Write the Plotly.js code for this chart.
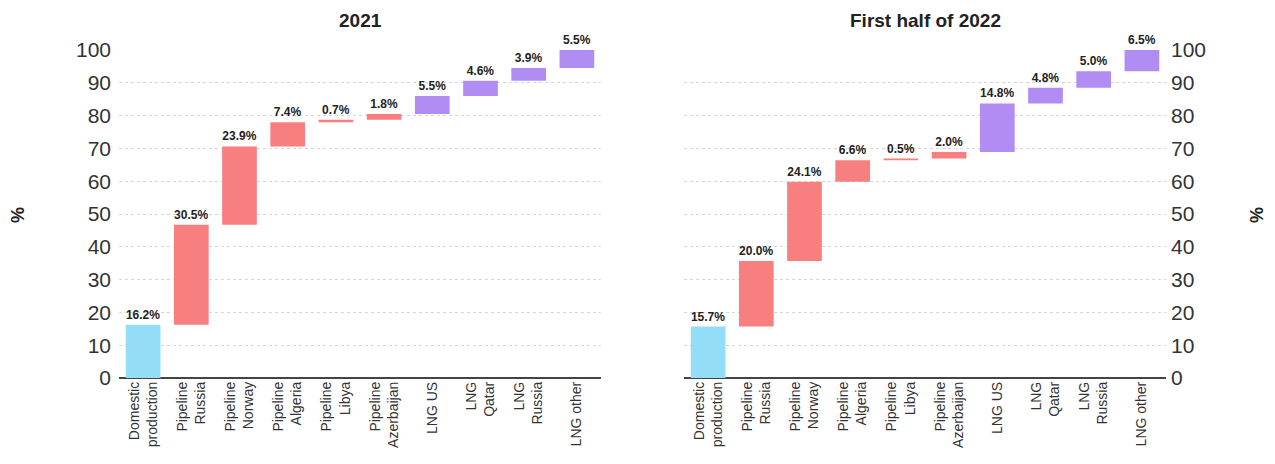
<!DOCTYPE html>
<html>
<head>
<meta charset="utf-8">
<script src="https://cdn.plot.ly/plotly-3.0.1.min.js"></script>
<style>html,body{margin:0;padding:0;background:#fff;}#chart{width:1275px;height:464px;}</style>
</head>
<body>
<div id="chart"></div>
<script>
var categories = ["Domestic<br>production","Pipeline<br>Russia","Pipeline<br>Norway","Pipeline<br>Algeria","Pipeline<br>Libya","Pipeline<br>Azerbaijan","LNG US","LNG<br>Qatar","LNG<br>Russia","LNG other"];
var groups = ["domestic","pipeline","pipeline","pipeline","pipeline","pipeline","lng","lng","lng","lng"];
var values2021 = [16.2,30.5,23.9,7.4,0.7,1.8,5.5,4.6,3.9,5.5];
var values2022 = [15.7,20.0,24.1,6.6,0.5,2.0,14.8,4.8,5.0,6.5];
var yTicks = [0,10,20,30,40,50,60,70,80,90,100];

var groupColors = {domestic:"#93DDF6", pipeline:"#F77F7F", lng:"#B18CF3"};
var FONT = "'Liberation Sans Narrow', 'Arial Narrow', 'Liberation Sans', Arial, sans-serif";

function makeTrace(vals, xa, ya){
  var bases = [], acc = 0;
  for (var i=0;i<vals.length;i++){ bases.push(acc); acc += vals[i]; }
  return {
    type:"bar", x:categories, y:vals, base:bases, xaxis:xa, yaxis:ya,
    width:0.72,
    marker:{color:groups.map(function(g){return groupColors[g];})},
    text:vals.map(function(v){return v.toFixed(1)+"%";}),
    texttemplate:"<b>%{text}</b>",
    textposition:"outside",
    textfont:{family:FONT, size:12, color:"#222"},
    cliponaxis:false,
    hoverinfo:"skip", showlegend:false
  };
}

var xCommon = {type:"category", tickangle:-90, showgrid:false, ticks:"", zeroline:false,
  tickfont:{family:"'Liberation Sans', Arial, sans-serif", size:14, color:"#333"},
  showline:false, fixedrange:true};
var yCommon = {range:[0,100], tickvals:yTicks, showgrid:true, gridcolor:"#d6d6d6", griddash:"dot", gridwidth:1,
  zeroline:true, zerolinecolor:"#444", zerolinewidth:1.5, ticks:"", showline:false,
  tickfont:{family:FONT, size:21, color:"#333"}, fixedrange:true};

var layout = {
  width:1275, height:464,
  margin:{l:0,r:0,t:50,b:86},
  paper_bgcolor:"#fff", plot_bgcolor:"#fff",
  bargap:0.28,
  xaxis:Object.assign({}, xCommon, {domain:[119/1275, 601/1275], anchor:"y"}),
  yaxis:Object.assign({}, yCommon, {anchor:"x", side:"left", ticklabelstandoff:7}),
  xaxis2:Object.assign({}, xCommon, {domain:[684/1275, 1166/1275], anchor:"y2"}),
  yaxis2:Object.assign({}, yCommon, {anchor:"x2", side:"right", ticklabelstandoff:4}),
  annotations:[
    {text:"<b>2021</b>", xref:"paper", yref:"paper", x:360/1275, xanchor:"center", y:1, yanchor:"bottom", yshift:17, showarrow:false,
      font:{family:FONT, size:19, color:"#222"}},
    {text:"<b>First half of 2022</b>", xref:"paper", yref:"paper", x:925/1275, xanchor:"center", y:1, yanchor:"bottom", yshift:17, showarrow:false,
      font:{family:FONT, size:19, color:"#222"}},
    {text:"<b>%</b>", xref:"paper", yref:"paper", x:18/1275, xanchor:"center", y:(378-215)/328, yanchor:"middle", showarrow:false, textangle:-90,
      font:{family:FONT, size:18, color:"#222"}},
    {text:"<b>%</b>", xref:"paper", yref:"paper", x:1257/1275, xanchor:"center", y:(378-215)/328, yanchor:"middle", showarrow:false, textangle:-90,
      font:{family:FONT, size:18, color:"#222"}}
  ]
};

Plotly.newPlot("chart", [makeTrace(values2021,"x","y"), makeTrace(values2022,"x2","y2")], layout, {displayModeBar:false, staticPlot:true});
</script>
</body>
</html>
